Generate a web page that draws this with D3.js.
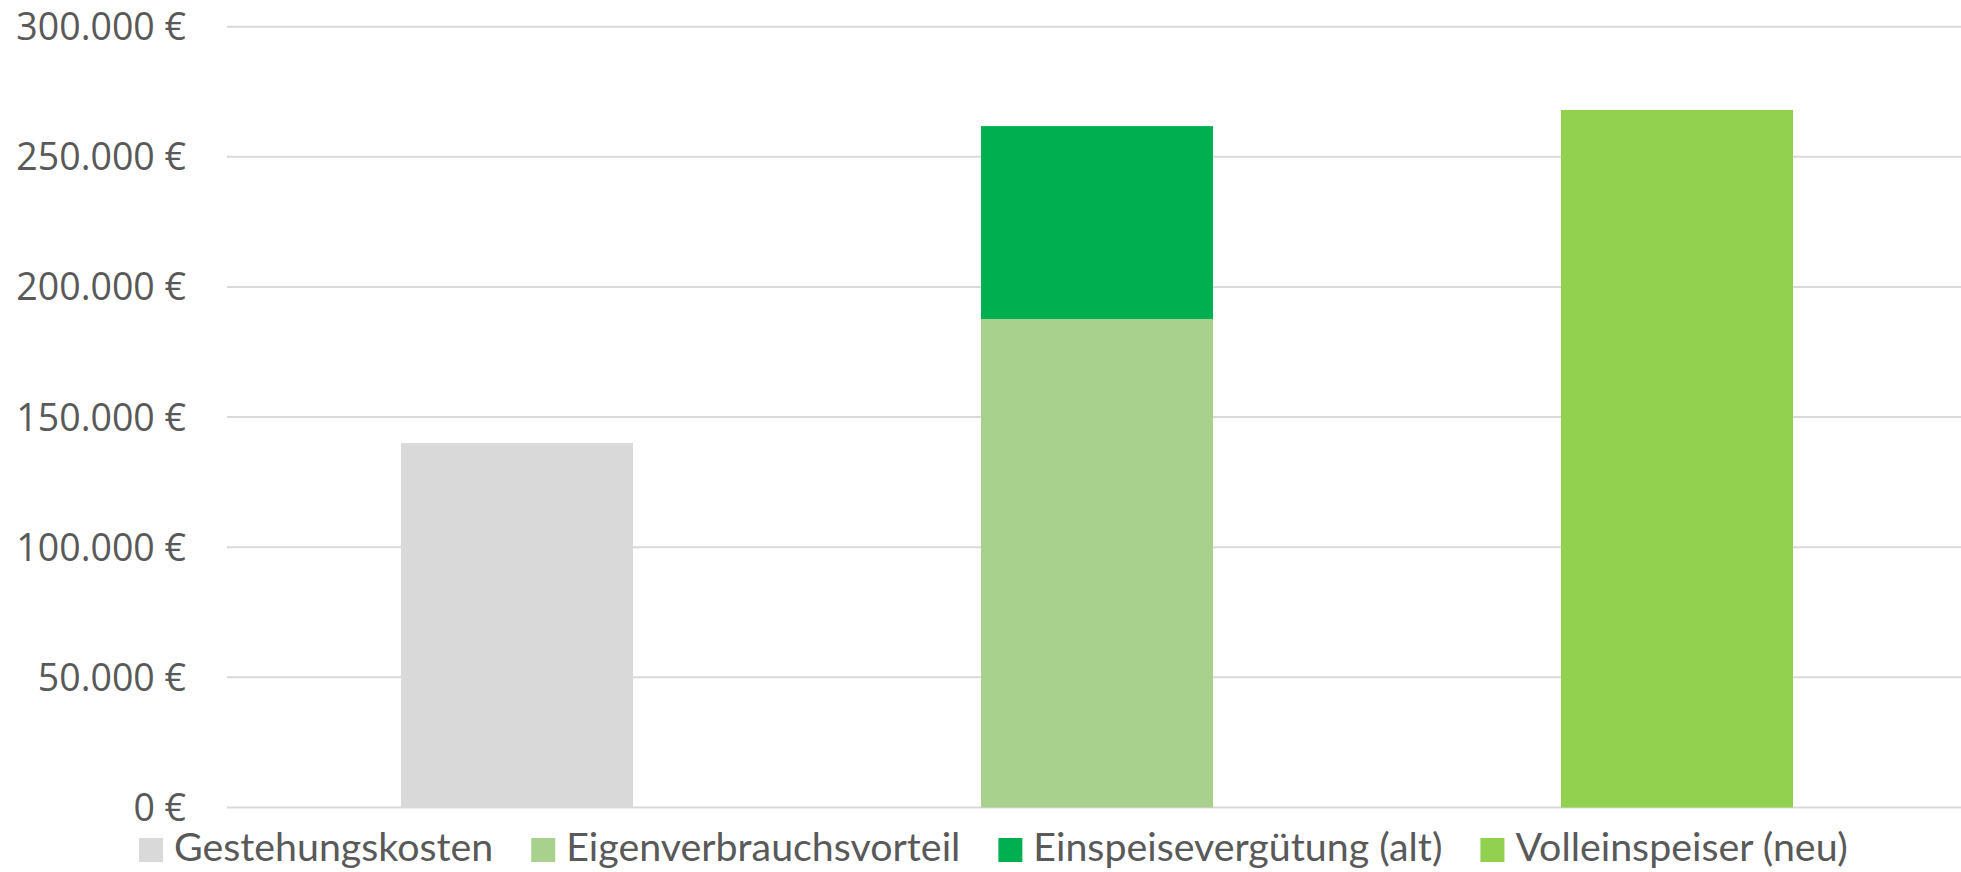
<!DOCTYPE html>
<html>
<head>
<meta charset="utf-8">
<script src="https://cdn.jsdelivr.net/npm/d3@7"></script>
<style>
  body { margin: 0; background: #fff; }
  svg { display: block; }
</style>
</head>
<body>
<div id="chart"></div>
<script>
// chart data
var categories = ["A", "B", "C"];
var seriesNames = ["Gestehungskosten", "Eigenverbrauchsvorteil", "Einspeisevergütung (alt)", "Volleinspeiser (neu)"];
var seriesColors = ["#d9d9d9", "#a9d18e", "#00b050", "#92d050"];
var gestehung = [140000, 0, 0];
var eigenverbrauch = [0, 187700, 0];
var einspeisung = [0, 74100, 0];
var volleinspeiser = [0, 0, 268000];
var yTicks = [0, 50000, 100000, 150000, 200000, 250000, 300000];

(function () {
  var width = 1961,
    height = 872;

  var svg = d3.select("#chart")
    .append("svg")
    .attr("width", width)
    .attr("height", height);

  var rows = categories.map(function (c, i) {
    return {
      cat: c,
      s0: gestehung[i],
      s1: eigenverbrauch[i],
      s2: einspeisung[i],
      s3: volleinspeiser[i]
    };
  });

  var stacked = d3.stack().keys(["s0", "s1", "s2", "s3"])(rows);

  var x = d3.scaleBand().domain(categories).range([227, 1967]).paddingInner(0.6).paddingOuter(0.3);
  var y = d3.scaleLinear().domain([0, 300000]).range([807.5, 26.7]);

  var fmt = function (v) {
    return d3.format(",")(v).replace(/,/g, ".") + " €";
  };

  // gridlines
  svg.append("g")
    .selectAll("line")
    .data(yTicks)
    .enter().append("line")
    .attr("x1", 227)
    .attr("x2", 1967)
    .attr("y1", function (d) { return y(d); })
    .attr("y2", function (d) { return y(d); })
    .attr("stroke", "#d9d9d9")
    .attr("stroke-width", 2);

  // y labels
  svg.append("g")
    .selectAll("text")
    .data(yTicks)
    .enter().append("text")
    .attr("x", 186)
    .attr("y", function (d) { return y(d); })
    .attr("dy", "0.36em")
    .attr("text-anchor", "end")
    .attr("font-family", "'Open Sans', sans-serif")
    .attr("font-size", 37.5)
    .attr("fill", "#595959")
    .text(fmt);

  // bars
  svg.append("g")
    .selectAll("g")
    .data(stacked)
    .enter().append("g")
    .attr("fill", function (d, i) { return seriesColors[i]; })
    .selectAll("rect")
    .data(function (d) { return d; })
    .enter().append("rect")
    .attr("x", function (d) { return x(d.data.cat); })
    .attr("width", x.bandwidth())
    .attr("y", function (d) { return y(d[1]); })
    .attr("height", function (d) { return y(d[0]) - y(d[1]); });

  // legend
  var legend = svg.append("g").attr("transform", "translate(139,838)");
  var fontSize = 36;
  var items = legend.selectAll("g")
    .data(seriesNames)
    .enter().append("g");

  items.append("rect")
    .attr("width", 24)
    .attr("height", 24)
    .attr("fill", function (d, i) { return seriesColors[i]; });

  var labels = items.append("text")
    .attr("x", 35)
    .attr("y", 23)
    .attr("font-family", "Lato, sans-serif")
    .attr("font-size", fontSize)
    .attr("fill", "#595959")
    .text(function (d) { return d; });

  // fit legend text to the original width
  var total = 0;
  labels.each(function () { total += this.getComputedTextLength(); });
  fontSize = fontSize * 1455 / total;
  labels.attr("font-size", fontSize);

  var pos = 0;
  items.each(function () {
    var t = d3.select(this).select("text").node();
    d3.select(this).attr("transform", "translate(" + pos + ",0)");
    pos += 35 + t.getComputedTextLength() + 38;
  });
})();
</script>
</body>
</html>
